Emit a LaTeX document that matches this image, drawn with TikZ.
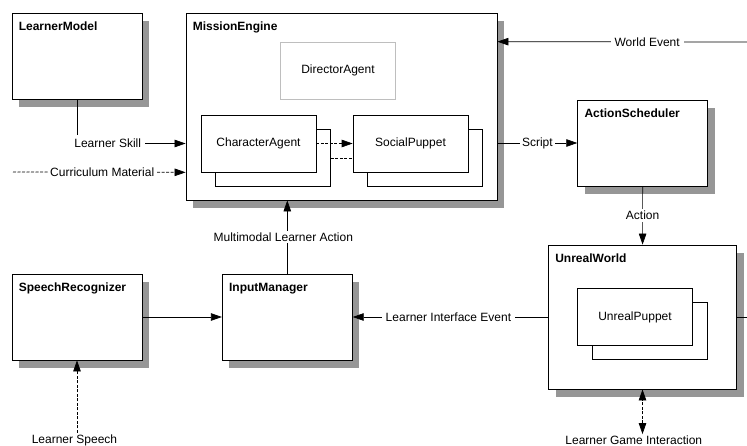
\documentclass[tikz,border=0pt]{standalone}
\usepackage{fontspec}
\setmainfont{Liberation Sans}
\usetikzlibrary{arrows.meta,shadows}
\definecolor{shadowgray}{RGB}{150,150,150}
\definecolor{agentgray}{RGB}{190,190,190}
\tikzset{
	>={Triangle[length=11pt,width=7.5pt]},
	block/.style={draw,fill=white,line width=0.8pt,minimum width=130pt,minimum height=86pt,
		drop shadow={shadow xshift=7pt,shadow yshift=-8pt,opacity=1,fill=shadowgray}},
	part/.style={draw,fill=white,line width=0.7pt,minimum width=115pt,minimum height=57pt,
		font=\fontsize{12}{14}\selectfont},
	head/.style={anchor=base west,inner sep=0pt,font=\fontsize{12}{14}\selectfont\bfseries},
	lbl/.style={fill=white,inner sep=2pt,font=\fontsize{12}{14}\selectfont},
	flow/.style={line width=0.7pt},
	dashflow/.style={line width=0.7pt,dash pattern=on 3pt off 1.5pt}
}

\begin{document}
\begin{tikzpicture}[x=1pt,y=-1pt]
	\useasboundingbox (0,0) rectangle (747,446);

	\node[block] (LM) at (77,56) {};
	\node[head] (LMt) at ([shift={(7,18)}]LM.north west) {LearnerModel};

	\node[block,minimum width=311pt,minimum height=187pt] (ME) at (341.5,106.5) {};
	\node[head] (MEt) at ([shift={(7,18)}]ME.north west) {MissionEngine};
	\node[part,draw=agentgray] (DA) at (338,70.5) {DirectorAgent};
	\node[part] (CAback) at (273,158) {};
	\node[part] (CA) at (258.5,143.5) {CharacterAgent};
	\node[part] (SPback) at (425,158) {};
	\node[part] (SP) at (410.5,143.5) {SocialPuppet};

	\node[block] (AS) at (642.7,143) {};
	\node[head] (ASt) at ([shift={(7,18)}]AS.north west) {ActionScheduler};

	\node[block] (SR) at (77,317) {};
	\node[head] (SRt) at ([shift={(7,18)}]SR.north west) {SpeechRecognizer};

	\node[block] (IM) at (287.3,317) {};
	\node[head] (IMt) at ([shift={(7,18)}]IM.north west) {InputManager};

	\node[block,minimum width=188pt,minimum height=144pt] (UW) at (642.5,317) {};
	\node[head] (UWt) at ([shift={(7,18)}]UW.north west) {UnrealWorld};
	\node[part] (UPback) at (649.5,331.3) {};
	\node[part] (UP) at (635,317) {UnrealPuppet};

	\node[lbl] (speech) at (74.5,440.7) {Learner Speech};
	\node[lbl] (game) at (633.8,440.7) {Learner Game Interaction};
	\coordinate (curin) at (13,172);
	\coordinate (weout) at (747,42);
	\coordinate (uwout) at (747,317);

	\draw[flow,->] (LM.south) |- node[lbl,pos=0.5,anchor=west,xshift=-7pt,inner sep=4pt] {Learner Skill} (ME.west |- CA);
	\draw[dashflow,->] (curin) -- node[lbl,pos=0.517,inner sep=1.5pt] {Curriculum Material} (ME.west |- CA.south);
	\draw[dashflow,->] (CA) -- (SP);
	\draw[dashflow] (CAback.east) -- (SP.west |- CAback.east);
	\draw[flow,->] (ME.east |- AS) -- node[lbl] {Script} (AS.west);
	\draw[flow,->] (weout) -- node[lbl,pos=0.4,inner sep=4pt] {World Event} (ME.east |- DA.north);
	\draw[flow,->] (AS) -- node[lbl] {Action} (UW);
	\draw[flow] (UW.east) -- (uwout);
	\draw[flow,->] (UW.west) -- node[lbl,pos=0.51,inner sep=4pt] {Learner Interface Event} (IM.east |- UW.west);
	\draw[flow,->] (SR) -- (IM);
	\draw[flow,->] (IM.north) -- node[lbl,xshift=-4pt] {Multimodal Learner Action} (IM.north |- ME.south);
	\draw[dashflow,->] (SR.south |- speech.north) -- (SR.south);
	\draw[dashflow,<->] (UW.south |- game.north) -- (UW.south);
\end{tikzpicture}
\end{document}
